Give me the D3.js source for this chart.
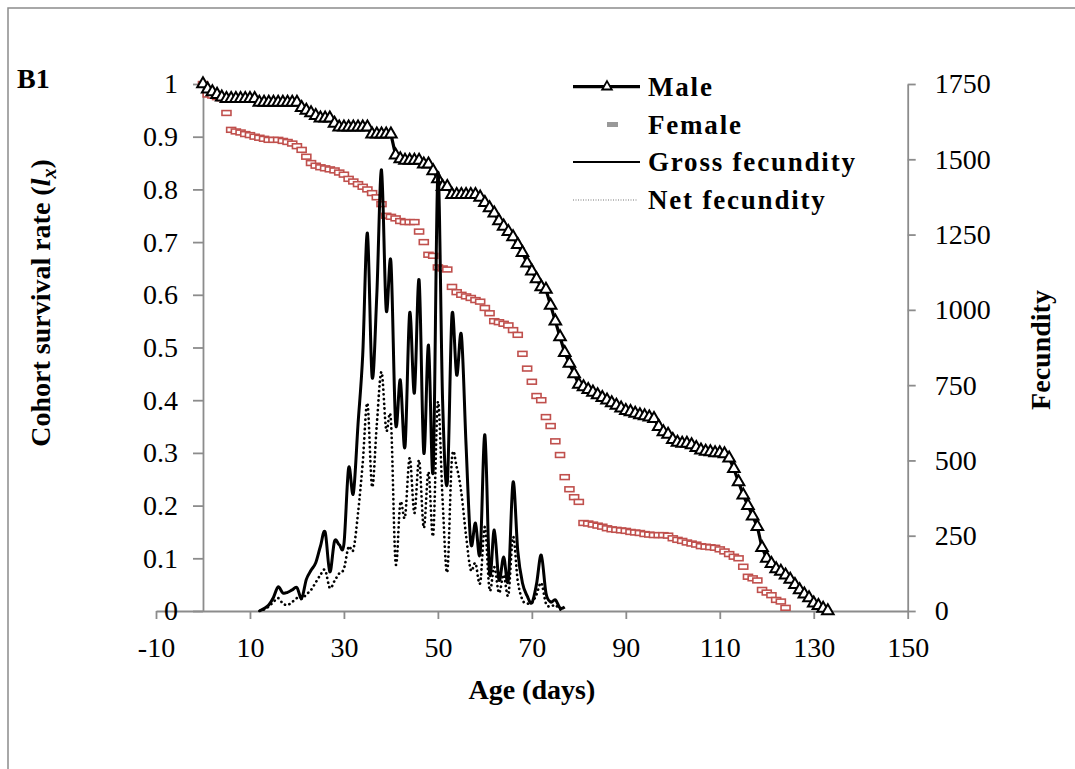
<!DOCTYPE html>
<meta charset="utf-8">
<html>
<head>
  <script src="https://d3js.org/d3.v7.min.js"></script>
  <style>
    body { margin: 0; background: #fff; }
    svg { font-family: "Liberation Serif", "Times New Roman", serif; }
    .tick text { font-family: "Liberation Serif", "Times New Roman", serif; font-size: 28px; fill: #000; }
    .axis path, .axis line { stroke: #8c8c8c; stroke-width: 1.8px; }
    .title { font-size: 28px; font-weight: bold; }
    .legend text { font-size: 27px; font-weight: bold; letter-spacing: 1.8px; }
  </style>
</head>
<body>
  <svg width="1075" height="769"></svg>

  <script>
    // survival rate per day, age = index (days)
    const maleSurvival = [
      1.0, 0.99, 0.985, 0.98, 0.975,
      0.972, 0.972, 0.972, 0.972, 0.972, 0.972, 0.972,
      0.965, 0.965, 0.965, 0.965, 0.965, 0.965, 0.965, 0.965, 0.965,
      0.955, 0.95, 0.945, 0.94,
      0.935, 0.935, 0.935, 0.925,
      0.918, 0.918, 0.918, 0.918, 0.918, 0.918, 0.918,
      0.905, 0.905, 0.905, 0.905, 0.905,
      0.865, 0.858, 0.855, 0.855, 0.855, 0.855, 0.848, 0.848,
      0.835, 0.82, 0.805, 0.805,
      0.79, 0.79, 0.79, 0.79, 0.79, 0.79,
      0.785, 0.775, 0.765, 0.755, 0.74, 0.73, 0.72, 0.71, 0.695, 0.68,
      0.66, 0.645, 0.63, 0.615, 0.61, 0.58, 0.55, 0.52, 0.49, 0.47, 0.45, 0.43,
      0.425, 0.42, 0.415, 0.41, 0.405, 0.4, 0.395, 0.39, 0.385, 0.38,
      0.378, 0.375, 0.372, 0.37, 0.368, 0.365, 0.35, 0.34, 0.335, 0.325,
      0.32, 0.318, 0.318, 0.315, 0.31, 0.305, 0.303, 0.302, 0.3, 0.3,
      0.298, 0.29, 0.27, 0.245, 0.22, 0.2, 0.18, 0.16, 0.12, 0.1,
      0.09, 0.08, 0.075, 0.068, 0.06, 0.05, 0.04, 0.032, 0.025, 0.015,
      0.01, 0.005, 0
    ];

    const femaleSurvival = [
      1.0, 0.98, 0.978, 0.975, 0.973, 0.945,
      0.913, 0.91, 0.908, 0.905, 0.903, 0.9, 0.898, 0.896, 0.894, 0.894,
      0.894, 0.892, 0.89, 0.887, 0.882, 0.875, 0.862, 0.85, 0.845, 0.842,
      0.84, 0.838, 0.836, 0.832, 0.828, 0.82, 0.815, 0.81, 0.805, 0.8,
      0.793, 0.785, 0.772, 0.75, 0.748, 0.745, 0.74, 0.738, 0.738, 0.738,
      0.72, 0.7, 0.676, 0.674, 0.652, 0.65, 0.648, 0.615, 0.605, 0.6,
      0.597, 0.594, 0.59, 0.587, 0.575, 0.565, 0.55, 0.548, 0.545, 0.542,
      0.533, 0.524, 0.488, 0.46, 0.435, 0.408, 0.4, 0.368, 0.351, 0.322,
      0.296, 0.254, 0.231, 0.216, 0.207, 0.167, 0.166, 0.164, 0.162, 0.16,
      0.157, 0.155, 0.154, 0.153, 0.152, 0.15, 0.149, 0.148, 0.146, 0.145,
      0.144, 0.144, 0.144, 0.143, 0.138, 0.135, 0.133, 0.13, 0.128, 0.126,
      0.123, 0.122, 0.121, 0.12, 0.117, 0.113, 0.108, 0.103, 0.1, 0.084,
      0.065, 0.062, 0.058, 0.04, 0.035, 0.03, 0.021, 0.018, 0.006
    ];

    // fecundity per day, starting at age 12
    const fecundityStart = 12;
    const grossFecundity = [
      0, 8, 20, 45, 80, 60, 62, 70, 78, 42,
      105, 135, 160, 215, 262, 130, 232, 220, 222, 475,
      390, 620, 850, 1255, 777, 1050, 1465, 1000, 1160, 624,
      767, 545, 990, 724, 1099, 525, 883, 468, 1455, 700,
      425, 983, 783, 917, 550, 226, 292, 193, 585, 126,
      269, 103, 179, 103, 428, 200, 93, 50, 27, 90,
      186, 60, 30, 37, 10, 13
    ];
    const netFecundity = [
      0, 5, 15, 30, 43, 25, 20, 30, 43, 40,
      55, 70, 95, 120, 136, 76, 100, 125, 140, 213,
      203, 325, 491, 690, 412, 620, 794, 601, 634, 159,
      359, 312, 508, 325, 501, 276, 462, 252, 694, 369,
      130, 508, 478, 392, 250, 136, 159, 93, 279, 70,
      146, 60, 120, 53, 246, 100, 37, 25, 27, 55,
      93, 25, 15, 20, 5, 8
    ];

    const xTicks = [-10, 10, 30, 50, 70, 90, 110, 130, 150];
    const leftTicks = [0, 0.1, 0.2, 0.3, 0.4, 0.5, 0.6, 0.7, 0.8, 0.9, 1];
    const rightTicks = [0, 250, 500, 750, 1000, 1250, 1500, 1750];

    const legendItems = ["Male", "Female", "Gross fecundity", "Net fecundity"];

    const svg = d3.select("svg");

    // outer frame
    svg.append("rect")
        .attr("x", 8).attr("y", 8)
        .attr("width", 1080).attr("height", 780)
        .attr("fill", "none")
        .attr("stroke", "#8c8c8c")
        .attr("stroke-width", 1.5);

    const x = d3.scaleLinear().domain([-10, 150]).range([156, 907.7]);
    const yL = d3.scaleLinear().domain([0, 1]).range([611, 84]);
    const yR = d3.scaleLinear().domain([0, 1750]).range([611, 84]);

    // axes
    svg.append("g")
        .attr("class", "axis")
        .attr("transform", `translate(0,${yL(0)})`)
        .call(d3.axisBottom(x).tickValues(xTicks).tickSize(8).tickSizeOuter(0).tickPadding(18)
          .tickFormat(d => String(d)));

    svg.append("g")
        .attr("class", "axis")
        .attr("transform", `translate(${x(0)},0)`)
        .call(d3.axisLeft(yL).tickValues(leftTicks).tickSize(10).tickSizeOuter(0).tickPadding(15)
          .tickFormat(d => String(d)));

    svg.append("g")
        .attr("class", "axis")
        .attr("transform", `translate(${x(150)},0)`)
        .call(d3.axisRight(yR).tickValues(rightTicks).tickSize(8).tickSizeOuter(0).tickPadding(19)
          .tickFormat(d => String(d)));

    // titles
    svg.append("text").attr("class", "title")
        .attr("x", 17).attr("y", 88)
        .text("B1");

    const yTitle = svg.append("text").attr("class", "title")
        .attr("transform", "translate(50,303) rotate(-90)")
        .attr("text-anchor", "middle");
    yTitle.append("tspan").text("Cohort survival rate (");
    yTitle.append("tspan").attr("font-style", "italic").text("l");
    yTitle.append("tspan").attr("font-style", "italic").attr("font-size", "20px").attr("dy", 6).text("x");
    yTitle.append("tspan").attr("dy", -6).text(")");

    svg.append("text").attr("class", "title")
        .attr("transform", "translate(1050,350) rotate(-90)")
        .attr("text-anchor", "middle")
        .text("Fecundity");

    svg.append("text").attr("class", "title")
        .attr("x", x(70)).attr("y", 699)
        .attr("text-anchor", "middle")
        .text("Age (days)");

    // female survival
    svg.append("g").selectAll("rect")
      .data(femaleSurvival)
      .enter().append("rect")
        .attr("x", (d, i) => x(i) - 4.5)
        .attr("y", d => yL(d) - 2.4)
        .attr("width", 9)
        .attr("height", 4.8)
        .attr("fill", "#fff")
        .attr("stroke", "#c0504d")
        .attr("stroke-width", 1.6);

    // male survival
    const maleLine = d3.line().x((d, i) => x(i)).y(d => yL(d));
    svg.append("path")
        .attr("d", maleLine(maleSurvival))
        .attr("fill", "none")
        .attr("stroke", "#000")
        .attr("stroke-width", 3.2);

    const tri = d3.symbol(d3.symbolTriangle).size(58);
    svg.append("g").selectAll("path")
      .data(maleSurvival)
      .enter().append("path")
        .attr("d", tri)
        .attr("transform", (d, i) => `translate(${x(i)},${yL(d)})`)
        .attr("fill", "#fff")
        .attr("stroke", "#000")
        .attr("stroke-width", 2);

    // fecundity
    const fecLine = d3.line()
        .x((d, i) => x(fecundityStart + i))
        .y(d => yR(d))
        .curve(d3.curveCardinal.tension(0));

    svg.append("path")
        .attr("d", fecLine(grossFecundity))
        .attr("fill", "none")
        .attr("stroke", "#000")
        .attr("stroke-width", 3);

    svg.append("path")
        .attr("d", fecLine(netFecundity))
        .attr("fill", "none")
        .attr("stroke", "#000")
        .attr("stroke-width", 2.7)
        .attr("stroke-linecap", "round")
        .attr("stroke-dasharray", "0.1,4.6");

    // legend
    const legend = svg.append("g").attr("class", "legend");
    const rowY = [86.7, 124.5, 162, 200];

    legend.append("line")
        .attr("x1", 573).attr("x2", 640).attr("y1", rowY[0]).attr("y2", rowY[0])
        .attr("stroke", "#000").attr("stroke-width", 3.2);
    legend.append("path")
        .attr("d", d3.symbol(d3.symbolTriangle).size(40))
        .attr("transform", `translate(607,${rowY[0]})`)
        .attr("fill", "#fff").attr("stroke", "#000").attr("stroke-width", 1.8);

    legend.append("rect")
        .attr("x", 607).attr("y", rowY[1] - 2.5)
        .attr("width", 11).attr("height", 5)
        .attr("fill", "#999");

    legend.append("line")
        .attr("x1", 573).attr("x2", 640).attr("y1", rowY[2]).attr("y2", rowY[2])
        .attr("stroke", "#000").attr("stroke-width", 2);

    legend.append("line")
        .attr("x1", 573).attr("x2", 637).attr("y1", rowY[3]).attr("y2", rowY[3])
        .attr("stroke", "#777").attr("stroke-width", 1.2)
        .attr("stroke-dasharray", "1,1.5");

    legend.selectAll("text")
      .data(legendItems)
      .enter().append("text")
        .attr("x", 648)
        .attr("y", (d, i) => rowY[i] + 9)
        .text(d => d);
  </script>
</body>
</html>
